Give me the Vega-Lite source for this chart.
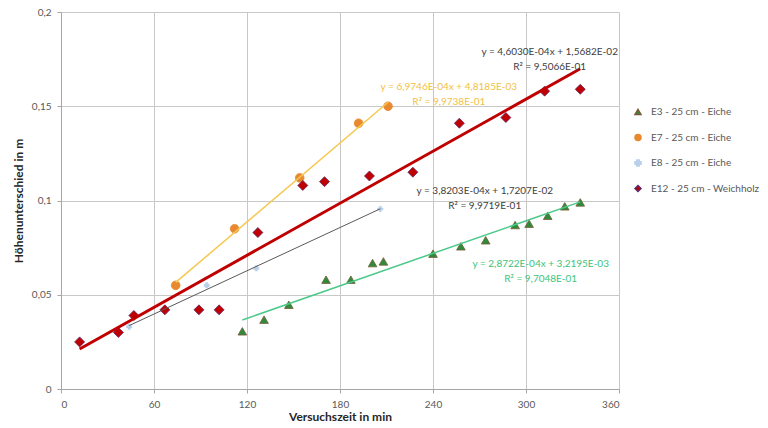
{
  "$schema": "https://vega.github.io/schema/vega-lite/v6.json",
  "autosize": {"type": "none"},
  "width": 558,
  "height": 377,
  "padding": {"left": 61, "top": 12, "right": 149, "bottom": 39},
  "background": "white",
  "config": {
    "font": "Lato",
    "view": {"stroke": null},
    "axis": {
      "gridColor": "#c8c8c8",
      "gridWidth": 1,
      "domainColor": "#a6a6a6",
      "tickColor": "#a6a6a6",
      "tickSize": 4,
      "labelColor": "#595959",
      "labelFontSize": 10,
      "labelFont": "Lato",
      "titleFont": "Lato",
      "titleFontSize": 12,
      "titleFontWeight": "bold",
      "titleColor": "#262626"
    }
  },
  "data": {
    "values": [
      {"t": 117, "v": 0.0306, "s": "E3 - 25 cm - Eiche"},
      {"t": 131, "v": 0.0368, "s": "E3 - 25 cm - Eiche"},
      {"t": 147, "v": 0.0447, "s": "E3 - 25 cm - Eiche"},
      {"t": 171, "v": 0.058, "s": "E3 - 25 cm - Eiche"},
      {"t": 187, "v": 0.058, "s": "E3 - 25 cm - Eiche"},
      {"t": 201, "v": 0.0668, "s": "E3 - 25 cm - Eiche"},
      {"t": 208, "v": 0.0677, "s": "E3 - 25 cm - Eiche"},
      {"t": 240, "v": 0.0718, "s": "E3 - 25 cm - Eiche"},
      {"t": 258, "v": 0.0757, "s": "E3 - 25 cm - Eiche"},
      {"t": 274, "v": 0.0789, "s": "E3 - 25 cm - Eiche"},
      {"t": 293, "v": 0.087, "s": "E3 - 25 cm - Eiche"},
      {"t": 302, "v": 0.0877, "s": "E3 - 25 cm - Eiche"},
      {"t": 314, "v": 0.0919, "s": "E3 - 25 cm - Eiche"},
      {"t": 325, "v": 0.0969, "s": "E3 - 25 cm - Eiche"},
      {"t": 335, "v": 0.099, "s": "E3 - 25 cm - Eiche"},
      {"t": 74, "v": 0.055, "s": "E7 - 25 cm - Eiche"},
      {"t": 112, "v": 0.085, "s": "E7 - 25 cm - Eiche"},
      {"t": 154, "v": 0.112, "s": "E7 - 25 cm - Eiche"},
      {"t": 192, "v": 0.141, "s": "E7 - 25 cm - Eiche"},
      {"t": 211, "v": 0.15, "s": "E7 - 25 cm - Eiche"},
      {"t": 44, "v": 0.033, "s": "E8 - 25 cm - Eiche"},
      {"t": 67, "v": 0.042, "s": "E8 - 25 cm - Eiche"},
      {"t": 94, "v": 0.055, "s": "E8 - 25 cm - Eiche"},
      {"t": 126, "v": 0.064, "s": "E8 - 25 cm - Eiche"},
      {"t": 206, "v": 0.0955, "s": "E8 - 25 cm - Eiche"},
      {"t": 12, "v": 0.025, "s": "E12 - 25 cm - Weichholz"},
      {"t": 37, "v": 0.03, "s": "E12 - 25 cm - Weichholz"},
      {"t": 47, "v": 0.039, "s": "E12 - 25 cm - Weichholz"},
      {"t": 67, "v": 0.042, "s": "E12 - 25 cm - Weichholz"},
      {"t": 89, "v": 0.042, "s": "E12 - 25 cm - Weichholz"},
      {"t": 102, "v": 0.042, "s": "E12 - 25 cm - Weichholz"},
      {"t": 127, "v": 0.083, "s": "E12 - 25 cm - Weichholz"},
      {"t": 156, "v": 0.108, "s": "E12 - 25 cm - Weichholz"},
      {"t": 170, "v": 0.11, "s": "E12 - 25 cm - Weichholz"},
      {"t": 199, "v": 0.113, "s": "E12 - 25 cm - Weichholz"},
      {"t": 227, "v": 0.115, "s": "E12 - 25 cm - Weichholz"},
      {"t": 257, "v": 0.141, "s": "E12 - 25 cm - Weichholz"},
      {"t": 287, "v": 0.144, "s": "E12 - 25 cm - Weichholz"},
      {"t": 312, "v": 0.158, "s": "E12 - 25 cm - Weichholz"},
      {"t": 335, "v": 0.159, "s": "E12 - 25 cm - Weichholz"}
    ]
  },
  "encoding": {
    "x": {
      "field": "t", "type": "quantitative",
      "scale": {"domain": [0, 360], "nice": false},
      "axis": {"values": [0, 60, 120, 180, 240, 300, 360], "title": "Versuchszeit in min", "labelPadding": 6, "titlePadding": 2}
    },
    "y": {
      "field": "v", "type": "quantitative",
      "scale": {"domain": [0, 0.2], "nice": false},
      "axis": {"values": [0, 0.05, 0.1, 0.15, 0.2], "format": ".2~f", "labelExpr": "replace(datum.label, '.', ',')", "title": "Höhenunterschied in m", "labelPadding": 6, "titlePadding": 6}
    }
  },
  "layer": [
    {
      "transform": [{"filter": "datum.s === 'E8 - 25 cm - Eiche'"}],
      "mark": {"type": "point", "filled": true, "size": 30, "opacity": 1, "strokeWidth": 0.5},
      "encoding": {
        "color": {
          "field": "s", "type": "nominal",
          "scale": {"domain": ["E3 - 25 cm - Eiche", "E7 - 25 cm - Eiche", "E8 - 25 cm - Eiche", "E12 - 25 cm - Weichholz"], "range": ["#2e8b3a", "#e8892f", "#b8d0ea", "#c00000"]},
          "legend": {
            "title": null, "orient": "none", "legendX": 572, "legendY": 95,
            "labelFontSize": 10, "labelColor": "#595959", "labelFont": "Lato",
            "symbolSize": 36, "rowPadding": 13.5, "labelOffset": 8, "padding": 0
          }
        },
        "shape": {
          "field": "s", "type": "nominal",
          "scale": {"domain": ["E3 - 25 cm - Eiche", "E7 - 25 cm - Eiche", "E8 - 25 cm - Eiche", "E12 - 25 cm - Weichholz"], "range": ["triangle-up", "circle", "cross", "diamond"]}
        },
        "stroke": {
          "field": "s", "type": "nominal",
          "scale": {"domain": ["E3 - 25 cm - Eiche", "E7 - 25 cm - Eiche", "E8 - 25 cm - Eiche", "E12 - 25 cm - Weichholz"], "range": ["#7a5a3a", "#e8892f", "#b8d0ea", "#5a2a6a"]}
        }
      }
    },
    {
      "transform": [{"filter": "datum.s === 'E3 - 25 cm - Eiche' || datum.s === 'E7 - 25 cm - Eiche'"}],
      "mark": {"type": "point", "filled": true, "size": 75, "opacity": 1, "strokeWidth": 0.8},
      "encoding": {
        "color": {"field": "s", "type": "nominal"},
        "shape": {"field": "s", "type": "nominal"},
        "stroke": {"field": "s", "type": "nominal"}
      }
    },
    {
      "transform": [{"filter": "datum.s === 'E12 - 25 cm - Weichholz'"}],
      "mark": {"type": "point", "filled": true, "size": 100, "opacity": 1, "strokeWidth": 0.8},
      "encoding": {
        "color": {"field": "s", "type": "nominal"},
        "shape": {"field": "s", "type": "nominal"},
        "stroke": {"field": "s", "type": "nominal"}
      }
    },
    {
      "transform": [{"filter": "datum.s === 'E3 - 25 cm - Eiche'"}, {"regression": "v", "on": "t"}],
      "mark": {"type": "line", "color": "#4cc98a", "strokeWidth": 1.5},
      "encoding": {}
    },
    {
      "transform": [{"filter": "datum.s === 'E7 - 25 cm - Eiche'"}, {"regression": "v", "on": "t"}],
      "mark": {"type": "line", "color": "#f5c84f", "strokeWidth": 1.5},
      "encoding": {}
    },
    {
      "transform": [{"filter": "datum.s === 'E8 - 25 cm - Eiche'"}, {"regression": "v", "on": "t"}],
      "mark": {"type": "line", "color": "#595959", "strokeWidth": 1},
      "encoding": {}
    },
    {
      "transform": [{"filter": "datum.s === 'E12 - 25 cm - Weichholz'"}, {"regression": "v", "on": "t"}],
      "mark": {"type": "line", "color": "#c00000", "strokeWidth": 3},
      "encoding": {}
    },
    {
      "transform": [{"filter": "datum.t === 12"}],
      "mark": {"type": "text", "text": ["y = 4,6030E-04x + 1,5682E-02", "R² = 9,5066E-01"], "align": "center", "baseline": "middle", "lineHeight": 15, "fontSize": 10, "color": "#404040", "font": "Lato"},
      "encoding": {"x": {"datum": 315.3}, "y": {"datum": 0.1787}}
    },
    {
      "transform": [{"filter": "datum.t === 12"}],
      "mark": {"type": "text", "text": ["y = 6,9746E-04x + 4,8185E-03", "R² = 9,9738E-01"], "align": "center", "baseline": "middle", "lineHeight": 15, "fontSize": 10, "color": "#f2bf3f", "font": "Lato"},
      "encoding": {"x": {"datum": 250.2}, "y": {"datum": 0.1603}}
    },
    {
      "transform": [{"filter": "datum.t === 12"}],
      "mark": {"type": "text", "text": ["y = 3,8203E-04x + 1,7207E-02", "R² = 9,9719E-01"], "align": "center", "baseline": "middle", "lineHeight": 15, "fontSize": 10, "color": "#404040", "font": "Lato"},
      "encoding": {"x": {"datum": 273.4}, "y": {"datum": 0.105}}
    },
    {
      "transform": [{"filter": "datum.t === 12"}],
      "mark": {"type": "text", "text": ["y = 2,8722E-04x + 3,2195E-03", "R² = 9,7048E-01"], "align": "center", "baseline": "middle", "lineHeight": 15, "fontSize": 10, "color": "#3cc47c", "font": "Lato"},
      "encoding": {"x": {"datum": 309.5}, "y": {"datum": 0.0662}}
    }
  ]
}
